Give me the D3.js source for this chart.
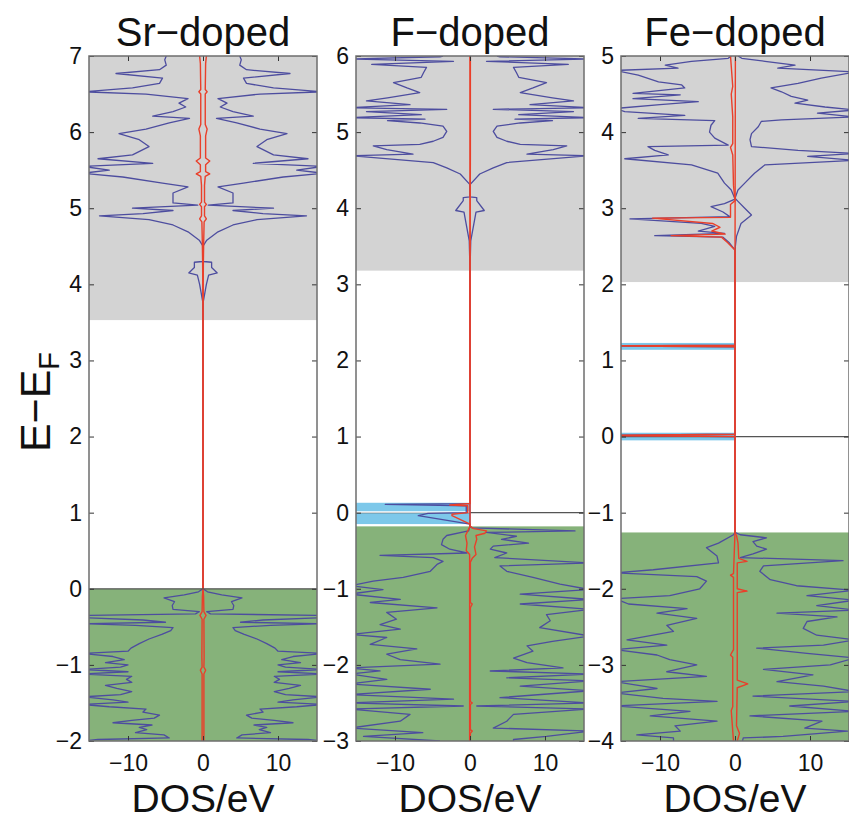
<!DOCTYPE html>
<html><head><meta charset="utf-8">
<script src="https://cdn.jsdelivr.net/npm/d3@7"></script>
<style>body{margin:0;background:#fff}</style>
</head><body><svg id="c" width="849" height="821"></svg>
<script>
// ---------------- DATA ----------------
const panelTitles = ["Sr\u2212doped", "F\u2212doped", "Fe\u2212doped"];
const xTickValues = [-10, 0, 10];
const yDomains = [[-2, 7], [-3, 6], [-4, 5]];
const grayRanges = [[3.53, 7], [3.18, 6], [2.03, 5]];
const greenRanges = [[-2, 0], [-3, -0.18], [-4, -1.26]];
const blueBands = [[], [[-0.15, 0.13]], [[1.14, 1.23], [-0.05, 0.05]]];

// Sr-doped: symmetric spin up / down  [E, DOS]
const srTotal = [[-2.00,16],[-1.98,14],[-1.96,4.5],[-1.92,5.2],[-1.89,9],[-1.85,7.5],[-1.82,8.5],[-1.79,6.8],[-1.76,12],[-1.73,9.5],[-1.70,6.5],[-1.66,5.8],[-1.62,8],[-1.58,7.6],[-1.55,12.5],[-1.52,16],[-1.49,10],[-1.46,12],[-1.42,16],[-1.39,11],[-1.35,9.5],[-1.31,11.5],[-1.27,13],[-1.23,9.5],[-1.19,10.2],[-1.15,9.5],[-1.12,16],[-1.09,10],[-1.06,16],[-1.03,11],[-1.00,10],[-0.97,13],[-0.93,10.5],[-0.89,12],[-0.85,16],[-0.82,10],[-0.78,9.6],[-0.72,8.5],[-0.66,7.2],[-0.60,5.5],[-0.55,4.3],[-0.51,4.0],[-0.48,9],[-0.46,16],[-0.44,5],[-0.41,8],[-0.38,16],[-0.35,16],[-0.33,1.0],[-0.30,0.5],[-0.27,4.0],[-0.22,4.1],[-0.17,3.8],[-0.12,5.2],[-0.08,2.5],[-0.04,0.6],[0,0],
 [3.53,0],[3.78,0.05],[4.0,0.45],[4.12,0.75],[4.15,1.9],[4.22,1.15],[4.29,1.15],[4.30,0.05],[4.5,0],[4.58,0.5],[4.69,2.0],[4.78,4.0],[4.85,7.2],[4.90,13.8],[4.93,8],[4.97,4],[5.0,9.4],[5.04,0.7],[5.07,4],[5.2,4],[5.28,2.0],[5.33,5.4],[5.41,10.7],[5.46,16],[5.50,12.5],[5.55,16],[5.59,6.7],[5.65,14],[5.70,9.4],[5.81,7.2],[5.90,8.5],[5.98,11.2],[6.04,7.6],[6.12,4.5],[6.18,1.8],[6.21,6.7],[6.27,4.0],[6.33,2.3],[6.38,3.2],[6.44,2.0],[6.50,7.6],[6.53,16],[6.58,9.4],[6.64,5.8],[6.71,5.4],[6.77,11.6],[6.82,5.8],[6.88,4.9],[6.95,5.1],[7.0,4.9]];
const srPartial = [[-2,0.12],[-1.12,0.12],[-1.07,0.35],[-1.03,0.12],[-0.9,0.15],[-0.4,0.12],[-0.35,0.4],[-0.3,0.12],[-0.1,0.08],[0,0],[3.53,0],[4.3,0.05],[4.6,0.1],[4.82,0.15],[4.86,0.45],[4.9,0.2],[5.02,0.2],[5.05,0.45],[5.08,0.2],[5.3,0.2],[5.42,0.3],[5.45,0.9],[5.48,0.35],[5.57,0.35],[5.62,0.9],[5.66,0.35],[5.95,0.35],[6.04,0.55],[6.1,0.3],[6.3,0.3],[6.5,0.3],[6.53,0.55],[6.56,0.3],[6.9,0.35],[7,0.45]];

// F-doped
const fConduction = [[3.18,0],[3.57,0.1],[3.95,0.8],[3.97,1.9],[4.1,0.9],[4.14,0.9],[4.15,0],[4.31,0],[4.45,1.3],[4.53,3.1],[4.6,4.9],[4.69,16],[4.71,7.6],[4.77,11.1],[4.82,12.9],[4.84,6.7],[4.88,4.9],[4.93,3.6],[5.01,3.1],[5.08,3.6],[5.12,6.7],[5.15,11],[5.17,6],[5.19,16],[5.23,6.5],[5.27,13.8],[5.30,3.1],[5.32,16],[5.36,8],[5.41,13.8],[5.45,11],[5.52,6.7],[5.58,8.4],[5.65,10.2],[5.72,6.5],[5.78,6.2],[5.85,5.8],[5.89,13.1],[5.93,2.2],[5.96,16],[5.99,4],[6.0,3.6]];
const fValenceUp = [[-3.0,5.8],[-2.98,5.8],[-2.94,10.2],[-2.87,16],[-2.83,3.1],[-2.74,4.9],[-2.65,5.8],[-2.58,16],[-2.54,0.9],[-2.5,16],[-2.43,4],[-2.34,16],[-2.28,6.7],[-2.21,16],[-2.17,4.9],[-2.12,16],[-2.08,2.7],[-2.04,12.4],[-1.97,7.6],[-1.91,5.8],[-1.82,8.4],[-1.75,7.6],[-1.69,11],[-1.62,16],[-1.51,9.3],[-1.42,10.7],[-1.34,10.2],[-1.27,16],[-1.2,6.7],[-1.14,16],[-1.07,6.7],[-1.01,16],[-0.94,12],[-0.85,8.4],[-0.77,4.9],[-0.7,4],[-0.66,16],[-0.59,3.3],[-0.53,4.9],[-0.48,2.7],[-0.44,3.1],[-0.4,7.8],[-0.35,4.2],[-0.31,6.2],[-0.26,2.2],[-0.24,14],[-0.2,0.3],[-0.18,0]];
const fValenceDn = [[-3.0,-4.0],[-2.94,-14.2],[-2.89,-6.3],[-2.83,-16],[-2.74,-9.3],[-2.65,-8],[-2.58,-16],[-2.54,-0.9],[-2.5,-16],[-2.45,-2.2],[-2.39,-16],[-2.32,-5.3],[-2.25,-16],[-2.19,-11.1],[-2.12,-16],[-2.08,-12],[-2.04,-16],[-1.99,-4],[-1.93,-9.3],[-1.86,-11.1],[-1.79,-7.1],[-1.73,-13.3],[-1.64,-11.1],[-1.6,-16],[-1.53,-9.3],[-1.47,-12],[-1.4,-9.8],[-1.31,-11.1],[-1.25,-4.4],[-1.18,-13.3],[-1.14,-9.3],[-1.07,-16],[-1.01,-11.6],[-0.96,-16],[-0.9,-12.9],[-0.85,-8.9],[-0.77,-5.3],[-0.68,-4.4],[-0.64,-3.6],[-0.59,-4.9],[-0.56,-12],[-0.53,-0.4],[-0.48,-2.7],[-0.42,-3.8],[-0.35,-3.6],[-0.3,-3.1],[-0.24,-0.2],[-0.18,0]];
const fGapDn = [[-0.15,0],[-0.04,-6.9],[-0.01,-5.6],[0.0,-0.5],[0.09,-0.5],[0.11,-11.3],[0.12,0]];
const fPartialUp = [[-3,0.05],[-2.9,0.05],[-2.87,0.3],[-2.85,0.05],[-2.52,0.05],[-2.5,0.3],[-2.48,0.05],[-1.25,0.05],[-1.2,0.3],[-1.18,0.05],[-0.65,0.05],[-0.6,0.3],[-0.55,0.8],[-0.45,0.6],[-0.35,0.9],[-0.3,0.8],[-0.27,2.0],[-0.24,2.2],[-0.21,0.5],[-0.18,0],[3.18,0],[4.7,0.05],[6,0.05]];
const fPartialDn = [[-3,-0.05],[-0.55,-0.05],[-0.5,-0.5],[-0.4,-0.4],[-0.3,-0.6],[-0.22,-0.2],[-0.18,0],[-0.15,0],[-0.04,-2.4],[-0.02,-2.4],[0,-0.3],[0.09,-0.3],[0.1,-2.7],[0.12,0],[6,0]];

// Fe-doped
const feConductionUp = [[2.03,0],[2.5,0.05],[2.63,0.2],[2.8,0.8],[2.91,2.2],[3.0,1.3],[3.09,0.4],[3.13,0],[3.24,0.4],[3.33,1.3],[3.46,2.6],[3.57,4],[3.63,16],[3.68,9.7],[3.72,16],[3.76,8.4],[3.81,2.2],[3.9,2.0],[3.98,2.2],[4.07,3.1],[4.14,3.5],[4.16,6.2],[4.2,16],[4.25,11],[4.29,16],[4.33,12],[4.38,8],[4.42,9.7],[4.47,7.5],[4.53,6.2],[4.58,4.8],[4.64,8.4],[4.71,11.5],[4.79,16],[4.84,5.7],[4.88,8],[4.93,4],[4.97,0.9],[5.0,0.4]];
const feConductionDn = [[2.03,0],[2.45,0],[2.55,-0.8],[2.62,-1.6],[2.64,-10.7],[2.67,-1.4],[2.7,-4.9],[2.76,-2.7],[2.8,-4.5],[2.86,-14],[2.89,-0.7],[2.95,-1.6],[3.02,-3.2],[3.06,-1.4],[3.12,0],[3.24,-0.5],[3.33,-1.4],[3.46,-2.3],[3.57,-5.8],[3.65,-14.7],[3.7,-8.9],[3.76,-10.7],[3.81,-11.6],[3.83,-0.9],[3.92,-2.7],[4.0,-3.4],[4.09,-3.2],[4.15,-2.7],[4.18,-12.9],[4.22,-6.7],[4.27,-14.7],[4.31,-16],[4.36,-10],[4.4,-4.9],[4.44,-13.6],[4.49,-7.3],[4.51,-13.6],[4.58,-6.7],[4.62,-7.1],[4.66,-10.2],[4.75,-12.9],[4.81,-16],[4.84,-7.6],[4.88,-9.3],[4.93,-5.8],[4.97,-0.9],[5.0,-0.5]];
const feValenceUp = [[-4.0,1.0],[-3.96,1.1],[-3.94,6.4],[-3.87,15],[-3.83,9.3],[-3.74,11.6],[-3.67,2],[-3.61,16],[-3.54,7.3],[-3.48,16],[-3.41,2.4],[-3.35,16],[-3.28,11.8],[-3.22,5.6],[-3.13,10.4],[-3.06,3.8],[-3.0,12.7],[-2.91,16],[-2.85,9.6],[-2.78,2.9],[-2.74,11.8],[-2.67,16],[-2.61,10.9],[-2.52,9.1],[-2.43,9.6],[-2.37,13.6],[-2.32,5.6],[-2.28,16],[-2.22,10.9],[-2.15,16],[-2.09,9.6],[-2.02,16],[-1.96,8.2],[-1.88,4.7],[-1.77,3.3],[-1.7,3.8],[-1.63,14.4],[-1.59,0.7],[-1.54,2.4],[-1.48,4.2],[-1.44,2.9],[-1.38,2.4],[-1.33,4.2],[-1.29,0.7],[-1.26,0]];
const feValenceDn = [[-4.0,-8.2],[-3.96,-8.2],[-3.92,-13.1],[-3.87,-7.3],[-3.8,-8],[-3.74,-2.4],[-3.67,-11.3],[-3.61,-6],[-3.54,-16],[-3.48,-2.4],[-3.44,-9.6],[-3.37,-16],[-3.31,-10.4],[-3.22,-16],[-3.15,-3.8],[-3.09,-9.1],[-3.0,-5.1],[-2.93,-8.7],[-2.87,-10.4],[-2.8,-16],[-2.74,-9.1],[-2.67,-14.4],[-2.56,-8.2],[-2.48,-9.1],[-2.39,-5.1],[-2.32,-10.4],[-2.26,-6.4],[-2.2,-14.2],[-2.13,-16],[-2.09,-8.7],[-2.0,-4.7],[-1.9,-3.8],[-1.84,-5.1],[-1.79,-16],[-1.75,-10.9],[-1.66,-2.2],[-1.57,-2.4],[-1.46,-3.8],[-1.4,-2.2],[-1.29,-0.2],[-1.26,0]];
const feGapDn = [[0.0,0],[0.015,-20],[0.03,0],[1.18,0],[1.19,-20],[1.2,0]];
const fePartialUp = [[-4,0.3],[-3.9,0.6],[-3.8,0.2],[-3.3,0.3],[-3.25,1.7],[-3.2,0.3],[-2.05,0.3],[-2.03,1.6],[-2.0,0.3],[-1.66,0.3],[-1.64,1.6],[-1.6,0.5],[-1.4,0.4],[-1.3,0.2],[-1.26,0],[2.03,0],[5,0.05]];
const fePartialDn = [[-4,-0.2],[-3.6,-0.5],[-3.55,-0.3],[-2.9,-0.3],[-2.87,-0.6],[-2.8,-0.2],[-1.85,-0.2],[-1.82,-0.6],[-1.8,-0.2],[-1.26,0],[0.0,0],[0.015,-20],[0.03,0],[1.18,0],[1.19,-20],[1.2,0],[2.03,0],[2.45,0],[2.55,-1.0],[2.62,-1.8],[2.64,-8.5],[2.66,-1.3],[2.7,-3.1],[2.75,-2.0],[2.8,-3.0],[2.87,-11.0],[2.88,-0.6],[3.05,-0.6],[3.1,0],[3.3,-0.2],[3.7,-0.3],[3.8,-0.6],[3.85,-0.3],[4.2,-0.3],[4.5,-0.5],[4.6,-0.3],[5,-0.6]];

// ---------------- BUILD SERIES ----------------
const neg = a => a.map(([e, v]) => [e, -v]);
const byE = a => a.slice().sort((p, q) => p[0] - q[0]);
const panelSeries = [
  { totalUp: srTotal, totalDn: neg(srTotal), partUp: srPartial, partDn: neg(srPartial) },
  { totalUp: byE(fValenceUp.concat(fConduction)), totalDn: byE(fValenceDn.concat(fGapDn, neg(fConduction))),
    partUp: fPartialUp, partDn: fPartialDn },
  { totalUp: byE(feValenceUp.concat(feConductionUp)), totalDn: byE(feValenceDn.concat(feGapDn, feConductionDn)),
    partUp: fePartialUp, partDn: fePartialDn }
];

// ---------------- LAYOUT ----------------
const FONT = "'Liberation Sans', Arial, sans-serif";
const panelX = [89, 356, 621];
const panelW = 228, panelTop = 56, panelH = 685;
const xDomain = [-15.2, 15.2];
const C = { gray: "#d3d3d3", green: "#86b27a", band: "#7dc8ea", blue: "#4d4d9f", red: "#ea3f2a", axis: "#6e6e6e" };

const svg = d3.select("#c");

panelTitles.forEach((title, i) => {
  const g = svg.append("g").attr("transform", `translate(${panelX[i]},${panelTop})`);
  const x = d3.scaleLinear().domain(xDomain).range([0, panelW]);
  const y = d3.scaleLinear().domain(yDomains[i]).range([panelH, 0]);
  const cid = "clip" + i;
  g.append("clipPath").attr("id", cid).append("rect").attr("width", panelW).attr("height", panelH);
  const body = g.append("g").attr("clip-path", `url(#${cid})`);

  const gr = grayRanges[i];
  body.append("rect").attr("x", 0).attr("width", panelW)
    .attr("y", y(gr[1])).attr("height", y(gr[0]) - y(gr[1])).attr("fill", C.gray);
  const gn = greenRanges[i];
  body.append("rect").attr("x", 0).attr("width", panelW)
    .attr("y", y(gn[1])).attr("height", y(gn[0]) - y(gn[1])).attr("fill", C.green);
  blueBands[i].forEach(b => {
    body.append("rect").attr("x", 0).attr("width", x(0))
      .attr("y", y(b[1])).attr("height", y(b[0]) - y(b[1])).attr("fill", C.band);
  });
  if (i > 0) {
    body.append("line").attr("x1", 0).attr("x2", panelW).attr("y1", y(0)).attr("y2", y(0))
      .attr("stroke", "#555").attr("stroke-width", 1.3);
  }
  if (i === 1) {
    body.append("line").attr("x1", 0).attr("x2", x(0)).attr("y1", y(0.01)).attr("y2", y(0.01))
      .attr("stroke", "#fff").attr("stroke-width", 1.5);
  }

  const line = d3.line().x(d => x(d[1])).y(d => y(d[0]));
  const s = panelSeries[i];
  [s.totalUp, s.totalDn].forEach(d => body.append("path").attr("d", line(d))
    .attr("fill", "none").attr("stroke", C.blue).attr("stroke-width", 1.3).attr("stroke-linejoin", "round"));
  [s.partUp, s.partDn].forEach(d => body.append("path").attr("d", line(d))
    .attr("fill", "none").attr("stroke", C.red).attr("stroke-width", 1.4).attr("stroke-linejoin", "round"));
  if (i === 0) {
    body.append("line").attr("x1", 0).attr("x2", panelW).attr("y1", y(0)).attr("y2", y(0))
      .attr("stroke", "#555").attr("stroke-width", 1.3);
  }

  // axes (MATLAB style: ticks inside, box)
  const yTicks = d3.range(yDomains[i][0], yDomains[i][1] + 1);
  const fmt = d3.format("d");
  const ax = (a) => a.tickSizeInner(-5).tickSizeOuter(0);
  const gl = g.append("g").call(ax(d3.axisLeft(y)).tickValues(yTicks).tickFormat(fmt).tickPadding(7));
  const grt = g.append("g").attr("transform", `translate(${panelW},0)`).call(ax(d3.axisRight(y)).tickValues(yTicks).tickFormat(""));
  const gb = g.append("g").attr("transform", `translate(0,${panelH})`).call(ax(d3.axisBottom(x)).tickValues(xTickValues).tickFormat(fmt).tickPadding(14));
  const gt = g.append("g").call(ax(d3.axisTop(x)).tickValues(xTickValues).tickFormat(""));
  [gl, grt, gb, gt].forEach(a => {
    a.select(".domain").remove();
    a.selectAll("line").attr("stroke", "#333").attr("stroke-width", 1);
    a.selectAll("text").attr("font-family", FONT).attr("font-size", 23).attr("fill", "#111");
  });
  g.append("rect").attr("width", panelW).attr("height", panelH)
    .attr("fill", "none").attr("stroke", C.axis).attr("stroke-width", 1.5);

  g.append("text").attr("x", panelW / 2).attr("y", -10).attr("text-anchor", "middle")
    .attr("font-family", FONT).attr("font-size", 40).attr("fill", "#111").text(title);
  g.append("text").attr("x", panelW / 2).attr("y", panelH + 71).attr("text-anchor", "middle")
    .attr("font-family", FONT).attr("font-size", 39).attr("fill", "#111").text("DOS/eV");
});

const yl = svg.append("text").attr("transform", "translate(50,402) rotate(-90)")
  .attr("text-anchor", "middle").attr("font-family", FONT).attr("font-size", 43).attr("fill", "#111");
yl.append("tspan").text("E\u2212E");
yl.append("tspan").attr("font-size", 29).attr("dy", 9).text("F");
</script></body></html>
